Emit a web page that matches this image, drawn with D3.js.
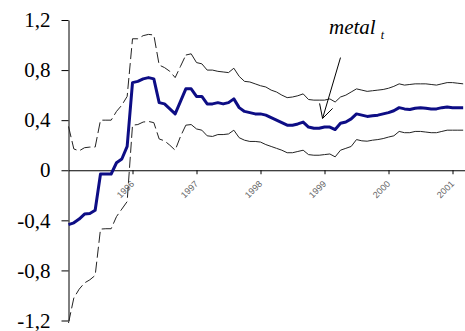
<!DOCTYPE html>
<html>
<head>
<meta charset="utf-8">
<script src="https://cdn.jsdelivr.net/npm/d3@7"></script>
<style>
  body { margin: 0; background: #fff; }
  svg { display: block; }
</style>
</head>
<body>
<svg id="chart"></svg>
<script>
// monthly estimates, Jan 1995 onwards
const startYear = 1995;
const centre = [
  -0.434, -0.42, -0.39, -0.35, -0.345, -0.32, -0.03, -0.03, -0.03, 0.06,
  0.09, 0.19, 0.70, 0.71, 0.73, 0.74, 0.73, 0.54, 0.53, 0.49,
  0.45, 0.55, 0.65, 0.65, 0.59, 0.59, 0.53, 0.53, 0.54, 0.53,
  0.54, 0.57, 0.50, 0.47, 0.46, 0.45, 0.45, 0.44, 0.42, 0.40,
  0.38, 0.36, 0.36, 0.37, 0.385, 0.345, 0.335, 0.335, 0.345, 0.345,
  0.325, 0.375, 0.385, 0.41, 0.45, 0.44, 0.43, 0.435, 0.44, 0.45,
  0.46, 0.475, 0.50, 0.49, 0.485, 0.495, 0.50, 0.495, 0.49, 0.49,
  0.50, 0.505, 0.50, 0.50, 0.50
];
const upper = [
  0.35, 0.17, 0.155, 0.18, 0.185, 0.185, 0.40, 0.40, 0.40, 0.47,
  0.52, 0.59, 1.05, 1.05, 1.075, 1.085, 1.08, 0.84, 0.82, 0.79,
  0.74, 0.83, 0.92, 0.93, 0.86, 0.85, 0.80, 0.80, 0.79, 0.785,
  0.78, 0.815, 0.75, 0.71, 0.705, 0.69, 0.675, 0.665, 0.64, 0.625,
  0.60, 0.58, 0.585, 0.595, 0.61, 0.565, 0.56, 0.56, 0.56, 0.57,
  0.545, 0.585, 0.60, 0.625, 0.65, 0.64, 0.63, 0.635, 0.64, 0.645,
  0.655, 0.67, 0.69, 0.68, 0.685, 0.69, 0.69, 0.69, 0.685, 0.68,
  0.69, 0.70, 0.70, 0.695, 0.69
];
const lower = [
  -1.22, -1.02, -0.95, -0.90, -0.875, -0.84, -0.47, -0.467, -0.467, -0.37,
  -0.31, -0.25, 0.36, 0.365, 0.385, 0.39, 0.38, 0.25, 0.235, 0.20,
  0.16, 0.27, 0.36, 0.365, 0.33, 0.32, 0.275, 0.27, 0.285, 0.285,
  0.29, 0.32, 0.26, 0.24, 0.23, 0.23, 0.225, 0.205, 0.19, 0.175,
  0.16, 0.14, 0.14, 0.15, 0.16, 0.125, 0.12, 0.12, 0.125, 0.13,
  0.107, 0.16, 0.175, 0.19, 0.245, 0.235, 0.232, 0.24, 0.245, 0.253,
  0.265, 0.275, 0.31, 0.30, 0.30, 0.31, 0.31, 0.305, 0.30, 0.30,
  0.31, 0.32, 0.32, 0.32, 0.32
];
const dashedUntil = 22; // band drawn dashed for the first months
const yTicks = [-1.2, -0.8, -0.4, 0, 0.4, 0.8, 1.2];
const xTicks = [1996, 1997, 1998, 1999, 2000, 2001];

const width = 465, height = 331;
const serif = '"Liberation Serif"';

const svg = d3.select("#chart")
  .attr("width", width)
  .attr("height", height);

const x = d3.scaleLinear().domain([1995, 2002]).range([68.5, 68.5 + 7 * 64]);
const y = d3.scaleLinear().domain([-1.2, 1.2]).range([320.5, 20]);

const date = (i) => startYear + i / 12;

// y axis
const yAxis = svg.append("g")
  .attr("transform", "translate(68.5,0)")
  .call(d3.axisLeft(y)
    .tickValues(yTicks)
    .tickSize(7)
    .tickSizeOuter(0)
    .tickPadding(11)
    .tickFormat((d) => d === 0 ? "0" : d.toFixed(1).replace(".", ",")));
yAxis.attr("font-family", serif).attr("font-size", 21);
yAxis.selectAll("text")
  .style("font-family", serif)
  .style("font-size", "21px")
  .attr("fill", "#000");
yAxis.selectAll("path, line").attr("stroke", "#000");

// x axis on zero line
const xAxis = svg.append("g")
  .attr("transform", `translate(0,${y(0)})`)
  .call(d3.axisBottom(x)
    .tickValues(xTicks)
    .tickSize(4)
    .tickSizeOuter(0)
    .tickFormat(""));
xAxis.selectAll("path, line").attr("stroke", "#000");

svg.selectAll(".yearLabel")
  .data(xTicks)
  .enter()
  .append("text")
  .attr("class", "yearLabel")
  .attr("transform", (d) => `translate(${x(d)},${y(0) + 12}) rotate(-45)`)
  .attr("text-anchor", "end")
  .attr("dy", "0.35em")
  .style("font-family", '"Liberation Sans"')
  .style("font-size", "9px")
  .attr("fill", "#666")
  .text((d) => d);

const line = d3.line()
  .x((d) => x(d.t))
  .y((d) => y(d.v));

function bandParts(values) {
  const pts = values.map((v, i) => ({ t: date(i), v: v }));
  return [pts.slice(0, dashedUntil + 1), pts.slice(dashedUntil)];
}

[upper, lower].forEach((band) => {
  const parts = bandParts(band);
  svg.append("path")
    .attr("d", line(parts[0]))
    .attr("fill", "none")
    .attr("stroke", "#222")
    .attr("stroke-width", 1)
    .attr("stroke-dasharray", "11,4");
  svg.append("path")
    .attr("d", line(parts[1]))
    .attr("fill", "none")
    .attr("stroke", "#222")
    .attr("stroke-width", 1);
});

svg.append("path")
  .attr("d", line(centre.map((v, i) => ({ t: date(i), v: v }))))
  .attr("fill", "none")
  .attr("stroke", "#0d0d85")
  .attr("stroke-width", 3)
  .attr("stroke-linejoin", "round");

// annotation
const tip = { t: 1998.97, v: 0.414 };
const tail = { t: 1999.25, v: 0.90 };
svg.append("line")
  .attr("x1", x(tail.t)).attr("y1", y(tail.v))
  .attr("x2", x(tip.t)).attr("y2", y(tip.v))
  .attr("stroke", "#000")
  .attr("stroke-width", 1);
svg.append("path")
  .attr("d", `M${x(tip.t) - 3},${y(tip.v) - 15} L${x(tip.t)},${y(tip.v)} L${x(tip.t) + 10},${y(tip.v) - 10}`)
  .attr("fill", "none")
  .attr("stroke", "#000")
  .attr("stroke-width", 1);

const label = svg.append("text")
  .attr("x", x(1999.07))
  .attr("y", y(1.09))
  .style("font-family", serif)
  .style("font-style", "italic")
  .style("font-size", "21px")
  .attr("fill", "#000");
label.append("tspan").text("metal");
label.append("tspan")
  .attr("dx", 5)
  .attr("dy", 5)
  .style("font-size", "12px")
  .text("t");
</script>
</body>
</html>
